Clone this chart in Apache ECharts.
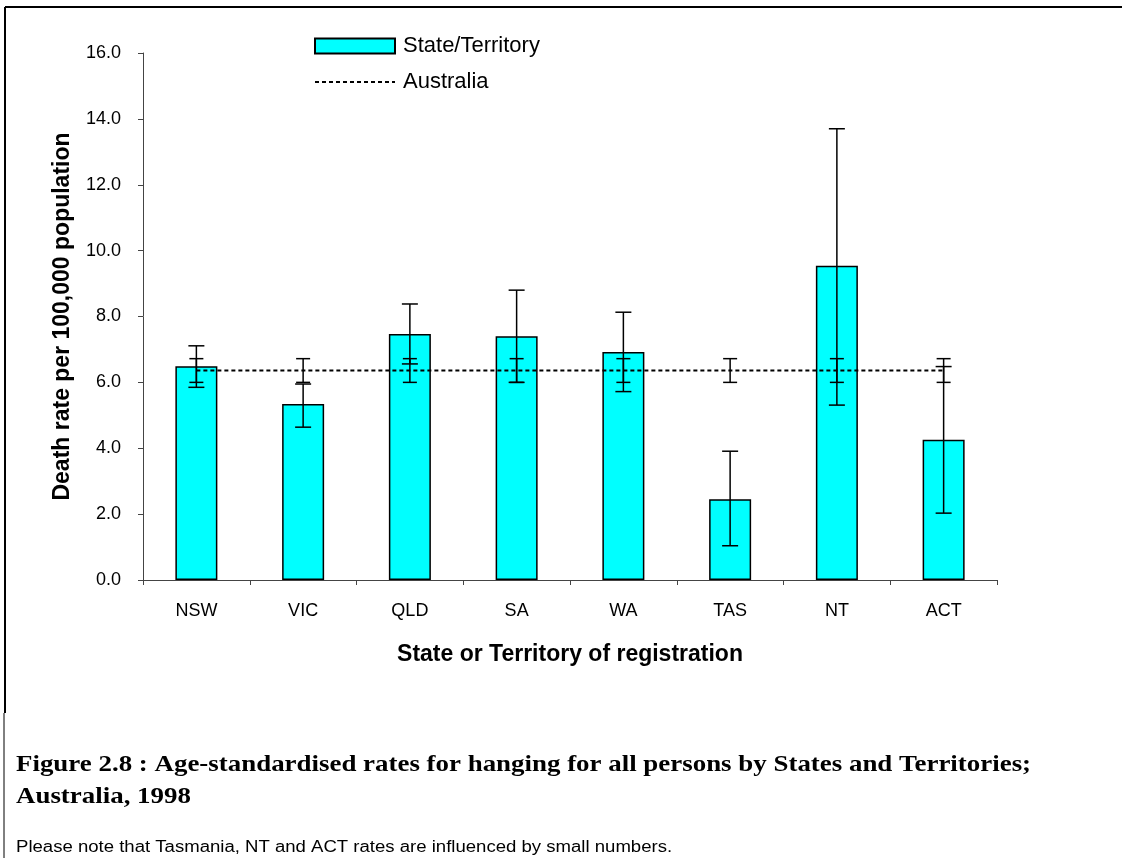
<!DOCTYPE html>
<html>
<head>
    <meta charset="utf-8">
    <title>Figure 2.8</title>
    <style>
        html, body { margin: 0; padding: 0; background: #fff; }
        #main { width: 1122px; height: 858px; }
    </style>
</head>
<body>
    <div id="main"></div>
    <script src="https://cdn.jsdelivr.net/npm/echarts@6/dist/echarts.min.js"></script>
    <script>
        // data
        var states = ['NSW', 'VIC', 'QLD', 'SA', 'WA', 'TAS', 'NT', 'ACT'];
        var stateRate = [6.49, 5.34, 7.47, 7.40, 6.92, 2.45, 9.54, 4.26];
        var stateLow = [5.85, 4.64, 6.56, 6.00, 5.72, 1.04, 5.31, 2.03];
        var stateHigh = [7.11, 5.95, 8.38, 8.80, 8.13, 3.91, 13.70, 6.48];
        var australiaRate = [6.36, 6.36, 6.36, 6.36, 6.36, 6.36, 6.36, 6.36];
        var australiaLow = [6.00, 6.00, 6.00, 6.00, 6.00, 6.00, 6.00, 6.00];
        var australiaHigh = [6.72, 6.72, 6.72, 6.72, 6.72, 6.72, 6.72, 6.72];
        var yTicks = [0, 2, 4, 6, 8, 10, 12, 14, 16];

        var chart = echarts.init(document.getElementById('main'));

        // whiskers with caps, drawn through the axis scales
        function errorBars(lows, highs, capHalf) {
            var rows = [];
            for (var i = 0; i < lows.length; i++) rows.push([i, lows[i], highs[i]]);
            return {
                type: 'custom',
                data: rows,
                z: 5,
                silent: true,
                renderItem: function (params, api) {
                    var lo = api.coord([api.value(0), api.value(1)]);
                    var hi = api.coord([api.value(0), api.value(2)]);
                    var st = { stroke: '#000', lineWidth: 1.5 };
                    return {
                        type: 'group',
                        children: [
                            { type: 'line', shape: { x1: lo[0], y1: lo[1], x2: hi[0], y2: hi[1] }, style: st },
                            { type: 'line', shape: { x1: lo[0] - capHalf, y1: lo[1], x2: lo[0] + capHalf, y2: lo[1] }, style: st },
                            { type: 'line', shape: { x1: hi[0] - capHalf, y1: hi[1], x2: hi[0] + capHalf, y2: hi[1] }, style: st }
                        ]
                    };
                }
            };
        }

        var serifBold = 'bold 23px "Liberation Serif", "Times New Roman", serif';

        var option = {
            backgroundColor: '#fff',
            animation: false,
            textStyle: { fontFamily: 'Arial, "Liberation Sans", sans-serif', color: '#000' },
            grid: { left: 143, right: 125, top: 53, bottom: 278, containLabel: false },
            legend: {
                orient: 'vertical',
                left: 314,
                top: 35,
                padding: 0,
                itemWidth: 80,
                itemHeight: 15,
                itemGap: 14,
                textStyle: { fontSize: 22, color: '#000', padding: [0, 0, 0, 3] },
                data: [
                    { name: 'State/Territory', icon: 'rect' },
                    { name: 'Australia', itemStyle: { color: 'rgba(0,0,0,0)', borderWidth: 0 } }
                ]
            },
            xAxis: {
                type: 'category',
                data: states,
                name: 'State or Territory of registration',
                nameLocation: 'middle',
                nameGap: 63,
                nameTextStyle: { fontSize: 23, fontWeight: 'bold', color: '#000' },
                axisLine: { lineStyle: { color: '#444', width: 1 } },
                axisTick: { show: true, length: 5, lineStyle: { color: '#444' } },
                axisLabel: { fontSize: 18, color: '#000', margin: 22 }
            },
            yAxis: {
                type: 'value',
                min: yTicks[0],
                max: yTicks[yTicks.length - 1],
                interval: 2,
                name: 'Death rate per 100,000 population',
                nameLocation: 'middle',
                nameRotate: 90,
                nameGap: 69,
                nameTextStyle: { fontSize: 23, fontWeight: 'bold', color: '#000' },
                splitLine: { show: false },
                axisLine: { show: true, lineStyle: { color: '#444', width: 1 } },
                axisTick: { show: true, length: 5, lineStyle: { color: '#444' } },
                axisLabel: {
                    fontSize: 18,
                    color: '#000',
                    margin: 22,
                    formatter: function (v) { return v.toFixed(1); }
                }
            },
            series: [
                {
                    name: 'State/Territory',
                    type: 'bar',
                    data: stateRate,
                    barWidth: 42,
                    itemStyle: { color: '#00FFFF', borderColor: '#000', borderWidth: 1.5 }
                },
                {
                    name: 'Australia',
                    type: 'line',
                    data: australiaRate,
                    symbol: 'none',
                    z: 4,
                    lineStyle: { color: '#000', width: 2, type: [4, 3] },
                    itemStyle: { color: '#000' }
                },
                errorBars(stateLow, stateHigh, 8),
                errorBars(australiaLow, australiaHigh, 7)
            ],
            graphic: [
                // frame of the chart object (top and left edges only are visible)
                { type: 'line', shape: { x1: 5, y1: 7, x2: 1122, y2: 7 }, style: { stroke: '#000', lineWidth: 2 }, silent: true },
                { type: 'line', shape: { x1: 5, y1: 7, x2: 5, y2: 713 }, style: { stroke: '#000', lineWidth: 2 }, silent: true },
                { type: 'line', shape: { x1: 4, y1: 713, x2: 4, y2: 858 }, style: { stroke: '#000', lineWidth: 1 }, silent: true },
                {
                    type: 'text', x: 16, y: 754, scaleX: 1.17,
                    style: { text: 'Figure 2.8 : Age-standardised rates for hanging for all persons by States and Territories;', font: serifBold, fill: '#000' }
                },
                {
                    type: 'text', x: 16, y: 786, scaleX: 1.17,
                    style: { text: 'Australia, 1998', font: serifBold, fill: '#000' }
                },
                {
                    type: 'text', x: 16, y: 840, scaleX: 1.16,
                    style: { text: 'Please note that Tasmania, NT and ACT rates are influenced by small numbers.', font: '16px "Liberation Sans", Arial, sans-serif', fill: '#000' }
                }
            ]
        };
        chart.setOption(option);
    </script>
</body>
</html>
